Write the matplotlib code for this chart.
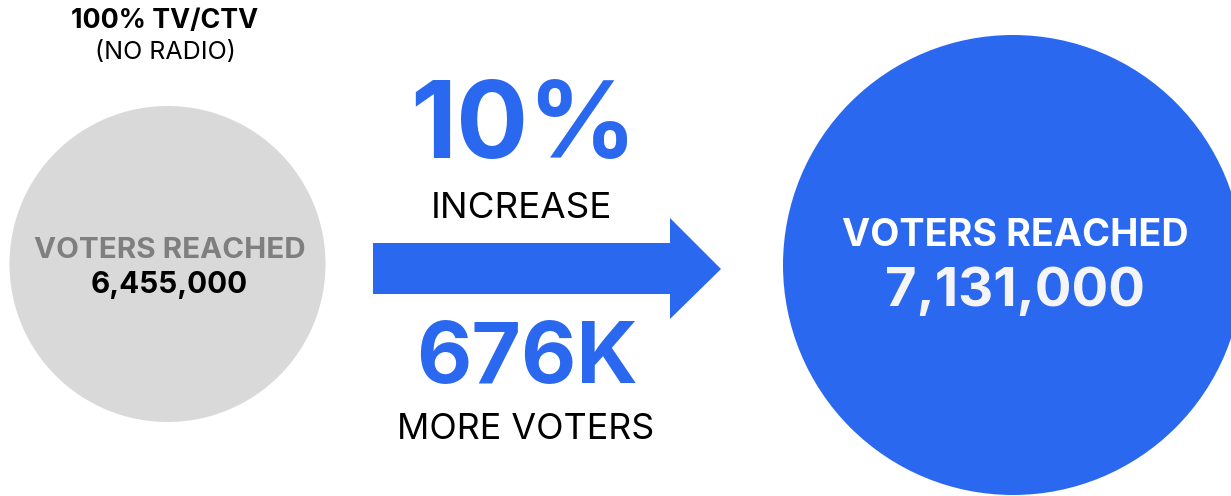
import matplotlib.pyplot as plt
from matplotlib.patches import Circle, Polygon

plt.rcParams['font.family'] = ['Inter', 'DejaVu Sans']

# reach numbers
before_label = '100% TV/CTV'
before_note = '(NO RADIO)'
metric = 'VOTERS REACHED'
voters_before = 6455000
voters_after = 7131000

gain = voters_after - voters_before
pct = round(100.0 * gain / voters_before)

BLUE = '#2B68F0'
GREY = '#D9D9D9'

fig = plt.figure(figsize=(12.31, 4.96), dpi=100)
ax = fig.add_axes([0, 0, 1, 1])
ax.set_xlim(0, 1231)
ax.set_ylim(496, 0)
ax.set_aspect('equal')
ax.axis('off')

# before / after circles
ax.add_patch(Circle((167.5, 264), 158, color=GREY, lw=0))
ax.add_patch(Circle((1013, 265), 230, color=BLUE, lw=0))

# arrow between them
arrow = [(373, 243), (670, 243), (670, 218), (721, 269),
         (670, 319), (670, 294), (373, 294)]
ax.add_patch(Polygon(arrow, closed=True, color=BLUE, lw=0))


def label(x, y, s, size, color='black', bold=False):
    ax.text(x, y, s, ha='center', va='baseline', fontsize=size,
            fontweight='bold' if bold else 'normal', color=color)


# left side
label(165, 28, before_label, 19.3, bold=True)
label(165, 59.5, before_note, 18)
label(169.5, 258, metric, 21.3, color='#7F7F7F', bold=True)
label(169.5, 293, f'{voters_before:,}', 21.4, bold=True)

# middle
label(524, 158, f'{pct}%', 77, color=BLUE, bold=True)
label(521, 218, 'INCREASE', 26.5)
label(527, 383, f'{round(gain / 1000)}K', 61.5, color=BLUE, bold=True)
label(526, 439, 'MORE VOTERS', 25.8)

# right side
label(1015, 246.5, metric, 27.2, color='white', bold=True)
label(1015, 306.5, f'{voters_after:,}', 39.2, color='#F5F5F8', bold=True)

fig.savefig('out.png', dpi=100)
